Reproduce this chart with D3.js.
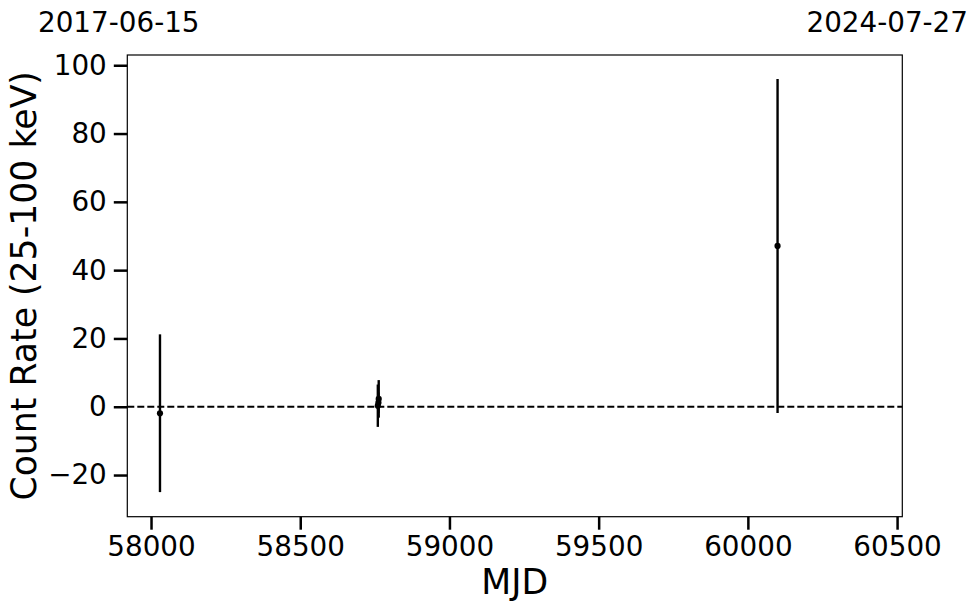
<!DOCTYPE html>
<html>
<head>
<meta charset="utf-8">
<script src="https://cdn.jsdelivr.net/npm/d3@7"></script>
<style>
  body { margin: 0; background: #fff; }
  svg { display: block; font-family: "DejaVu Sans", sans-serif; }
</style>
</head>
<body>
<svg id="chart" width="980" height="613"></svg>
<script>
// Data (MJD, count rate, 1-sigma error)
const mjd   = [58030, 58760, 58762, 58763, 60099.5];
const rate  = [-1.9, 0.3, 1.2, 2.3, 47.1];
const err   = [23.1, 6.2, 3.0, 5.5, 48.9];
const xTicks = [58000, 58500, 59000, 59500, 60000, 60500];
const yTicks = [-20, 0, 20, 40, 60, 80, 100];
const dateLabels = ["2017-06-15", "2024-07-27"];
const xDomain = [57920.5, 60517.5];
const yDomain = [-32.2, 103.0];

const svg = d3.select("#chart");
const m = { left: 127.3, right: 902.3, top: 55, bottom: 516.7 };

const x = d3.scaleLinear().domain(xDomain).range([m.left, m.right]);
const y = d3.scaleLinear().domain(yDomain).range([m.bottom, m.top]);

// zero line
svg.append("line")
  .attr("x1", m.left).attr("x2", m.right)
  .attr("y1", y(0)).attr("y2", y(0))
  .attr("stroke", "#000").attr("stroke-width", 2.1)
  .attr("stroke-dasharray", "7,3");

const pts = mjd.map((d, i) => ({ x: d, y: rate[i], e: err[i] }));

// error bars
svg.append("g").selectAll("line").data(pts).join("line")
  .attr("x1", d => x(d.x)).attr("x2", d => x(d.x))
  .attr("y1", d => y(d.y - d.e)).attr("y2", d => y(d.y + d.e))
  .attr("stroke", "#000").attr("stroke-width", 2.4);

// markers
svg.append("g").selectAll("circle").data(pts).join("circle")
  .attr("cx", d => x(d.x)).attr("cy", d => y(d.y))
  .attr("r", 3.1).attr("fill", "#000");

// frame
svg.append("rect")
  .attr("x", m.left).attr("y", m.top)
  .attr("width", m.right - m.left).attr("height", m.bottom - m.top)
  .attr("fill", "none").attr("stroke", "#000").attr("stroke-width", 1.2);

const tickFont = 27.8, labelFont = 34.7;

// axes
const xAxis = d3.axisBottom(x).tickValues(xTicks).tickFormat(d3.format("d"))
  .tickSize(13).tickPadding(7);
const gx = svg.append("g").attr("transform", `translate(0,${m.bottom})`).call(xAxis);
gx.select(".domain").remove();
gx.selectAll(".tick line").attr("stroke-width", 2.5);
gx.selectAll(".tick text").attr("font-size", tickFont).attr("fill", "#000")
  .attr("font-family", "DejaVu Sans");

const yAxis = d3.axisLeft(y).tickValues(yTicks)
  .tickFormat(d => d < 0 ? "\u2212" + Math.abs(d) : String(d))
  .tickSize(13.5).tickPadding(7);
const gy = svg.append("g").attr("transform", `translate(${m.left},0)`).call(yAxis);
gy.select(".domain").remove();
gy.selectAll(".tick line").attr("stroke-width", 2.5);
gy.selectAll(".tick text").attr("font-size", tickFont).attr("fill", "#000")
  .attr("font-family", "DejaVu Sans");

// axis labels
svg.append("text")
  .attr("x", (m.left + m.right) / 2).attr("y", 593.5)
  .attr("text-anchor", "middle").attr("font-size", labelFont).attr("fill", "#000")
  .text("MJD");

svg.append("text")
  .attr("transform", `translate(35.5,${(m.top + m.bottom) / 2}) rotate(-90)`)
  .attr("text-anchor", "middle").attr("font-size", labelFont).attr("fill", "#000")
  .text("Count Rate (25-100 keV)");

// date labels at top
svg.append("text").attr("x", 38).attr("y", 32.3)
  .attr("text-anchor", "start").attr("font-size", tickFont).attr("fill", "#000")
  .text(dateLabels[0]);
svg.append("text").attr("x", 968).attr("y", 32.3)
  .attr("text-anchor", "end").attr("font-size", tickFont).attr("fill", "#000")
  .text(dateLabels[1]);
</script>
</body>
</html>
